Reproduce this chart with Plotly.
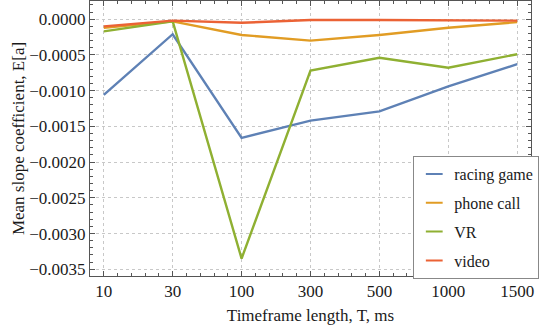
import plotly.graph_objects as go

timeframes = ["10", "30", "100", "300", "500", "1000", "1500"]

racing_game = [-0.00106, -0.00021, -0.00166, -0.00142, -0.00129, -0.00094, -0.00063]
phone_call = [-0.00012, -0.00003, -0.00022, -0.00030, -0.00022, -0.00012, -0.00004]
vr = [-0.00017, -0.00003, -0.00335, -0.00072, -0.00054, -0.00068, -0.00049]
video = [-0.00010, -0.00002, -0.00005, -0.00001, -0.00001, -0.00002, -0.00002]

series = [
    ("racing game", racing_game, "#5E81B5"),
    ("phone call", phone_call, "#E19C24"),
    ("VR", vr, "#8FB032"),
    ("video", video, "#EB6235"),
]

FONT = "Liberation Serif"
TXT = "#1a1a1a"

fig = go.Figure()
for name, vals, color in series:
    fig.add_trace(
        go.Scatter(
            x=list(range(len(timeframes))),
            y=vals,
            mode="lines",
            name=name,
            showlegend=False,
            line=dict(color=color, width=2.4),
        )
    )
# short legend swatches, as in the original
for i, (name, vals, color) in enumerate(series):
    fig.add_trace(
        go.Scatter(
            x=[None],
            y=[None],
            mode="markers",
            name=name,
            legendgroup=f"g{i}",
            marker=dict(symbol="line-ew-open", size=12, color=color, line=dict(color=color, width=2)),
        )
    )

axis_common = dict(
    showline=True,
    linecolor="#555555",
    linewidth=1,
    mirror="ticks",
    ticks="inside",
    ticklen=5,
    tickcolor="#555555",
    showgrid=True,
    gridcolor="#c8c8c8",
    griddash="dot",
    gridwidth=1,
    zeroline=False,
    automargin=False,
    tickfont=dict(family=FONT, size=17, color=TXT),
)

fig.update_xaxes(
    **axis_common,
    tickmode="array",
    tickvals=list(range(len(timeframes))),
    ticktext=timeframes,
    range=[-0.2, 6.2],
    minor=dict(dtick=0.2, tick0=0, ticks="inside", ticklen=3, tickcolor="#555555", showgrid=False),
    title=dict(text="Timeframe length, T, ms", font=dict(family=FONT, size=17, color=TXT), standoff=8),
)
fig.update_yaxes(
    **axis_common,
    range=[-0.003594, 0.000255],
    dtick=0.0005,
    tick0=0,
    tickformat=".4f",
    minor=dict(dtick=0.0001, ticks="inside", ticklen=3, tickcolor="#555555", showgrid=False),
    title=dict(text="Mean slope coefficient, E[a]", font=dict(family=FONT, size=17, color=TXT), standoff=0),
)

fig.update_layout(
    width=540,
    height=326,
    paper_bgcolor="white",
    plot_bgcolor="white",
    margin=dict(l=90, r=4, t=1, b=50),
    showlegend=True,
    legend=dict(
        x=0.733,
        y=0.436,
        xanchor="left",
        yanchor="top",
        bgcolor="white",
        bordercolor="#888888",
        borderwidth=1,
        font=dict(family=FONT, size=16, color=TXT),
        itemwidth=30,
        tracegroupgap=5,
    ),
)

# the page's default body margin would shift the figure by 8px
fig.write_html(
    "out.html",
    config={"displayModeBar": False},
    post_script="document.body.style.margin='0';",
)
